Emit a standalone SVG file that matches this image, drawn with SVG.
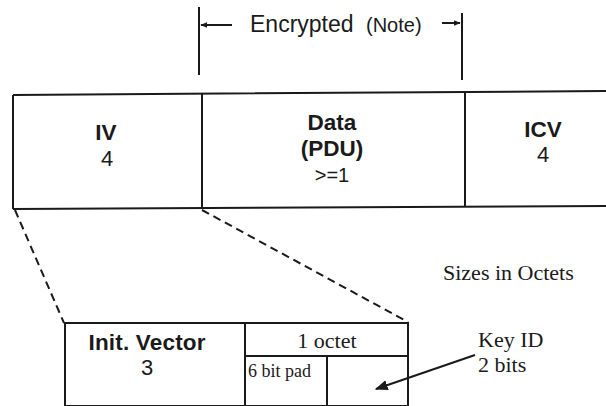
<svg xmlns="http://www.w3.org/2000/svg" width="606" height="406" viewBox="0 0 606 406">
<style>
.ln{stroke:#1a1a1a;stroke-width:2;fill:none}
.dash{stroke:#1a1a1a;stroke-width:2;fill:none;stroke-dasharray:8 5}
.sb{font-family:"Liberation Sans",Arial,sans-serif;font-weight:bold;font-size:22.5px;fill:#1a1a1a;text-anchor:middle}
.sn{font-family:"Liberation Sans",Arial,sans-serif;font-size:22px;fill:#1a1a1a;text-anchor:middle}
.s{font-family:"Liberation Sans",Arial,sans-serif;fill:#1a1a1a}
.t{font-family:"Liberation Serif","Times New Roman",serif;fill:#1a1a1a}
</style>
<defs>
<marker id="ah" viewBox="0 0 10 10" refX="9" refY="5" markerWidth="7" markerHeight="7" orient="auto" markerUnits="userSpaceOnUse">
<path d="M0,1 L10,5 L0,9 Z" fill="#1a1a1a"/>
</marker>
<marker id="ahl" viewBox="0 0 10 10" refX="9" refY="5" markerWidth="13" markerHeight="13" orient="auto" markerUnits="userSpaceOnUse">
<path d="M0,1 L10,5 L0,9 Z" fill="#1a1a1a"/>
</marker>
</defs>
<rect width="606" height="406" fill="#fff"/>
<g id="encrypted">
<line class="ln" x1="199" y1="7" x2="199" y2="75"/>
<line class="ln" x1="462" y1="13" x2="462" y2="80"/>
<line class="ln" stroke-width="1.5" x1="232" y1="25" x2="201" y2="25" marker-end="url(#ah)"/>
<line class="ln" stroke-width="1.5" x1="442" y1="23" x2="460" y2="23" marker-end="url(#ah)"/>
<text class="s" x="250" y="32" style="font-size:23px">Encrypted</text>
<text class="s" x="366" y="32" style="font-size:20px">(Note)</text>
</g>
<g id="frame">
<path class="ln" d="M13,95 L606,91 M13,209 L606,206 M13,95 L13,209"/>
</g>
<g id="iv">
<line class="ln" x1="202" y1="94" x2="202" y2="208"/>
<text class="sb" x="106" y="140">IV</text>
<text class="sn" x="107" y="166">4</text>
</g>
<g id="data">
<line class="ln" x1="465" y1="92" x2="465" y2="207"/>
<text class="sb" x="332" y="130">Data</text>
<text class="sb" x="332" y="156">(PDU)</text>
<text class="sn" x="332" y="182" style="font-size:20px">&gt;=1</text>
</g>
<g id="icv">
<text class="sb" x="543" y="137">ICV</text>
<text class="sn" x="543" y="162">4</text>
</g>
<g id="connectors">
<line class="dash" x1="15" y1="210" x2="64" y2="323"/>
<line class="dash" x1="202" y1="210" x2="408" y2="322"/>
<line class="ln" stroke-width="2.5" x1="475" y1="355" x2="376" y2="389" marker-end="url(#ahl)"/>
</g>
<g id="init-vector">
<rect class="ln" x="65" y="323" width="343" height="83"/>
<line class="ln" x1="245" y1="323" x2="245" y2="406"/>
<line class="ln" x1="245" y1="356" x2="408" y2="356"/>
<line class="ln" x1="327" y1="356" x2="327" y2="406"/>
<text class="sb" x="147" y="350" textLength="117">Init. Vector</text>
<text class="sn" x="147" y="375">3</text>
<text class="t" x="327" y="348" style="font-size:22px" text-anchor="middle">1 octet</text>
<text class="t" x="248" y="377" style="font-size:18px">6 bit pad</text>
</g>
<g id="notes">
<text class="t" x="443" y="280" style="font-size:22px">Sizes in Octets</text>
<text class="t" x="478" y="347" style="font-size:22px">Key ID</text>
<text class="t" x="478" y="372" style="font-size:22px">2 bits</text>
</g>
</svg>
